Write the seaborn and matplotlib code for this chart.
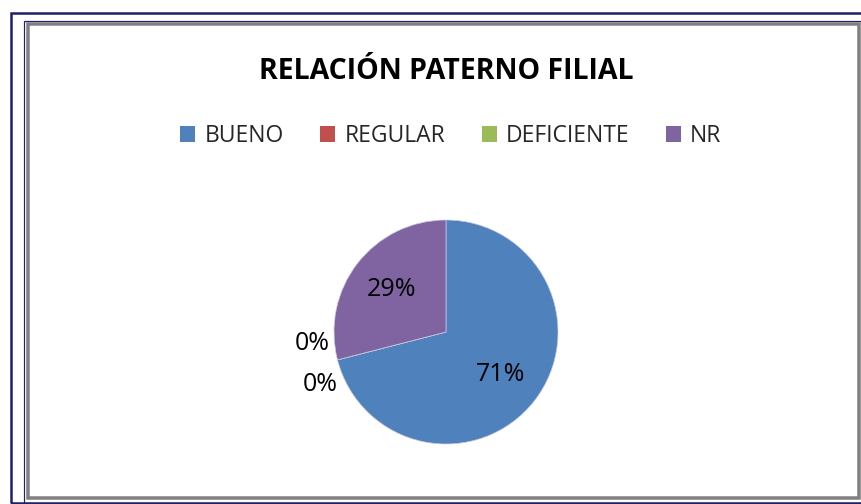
import matplotlib
matplotlib.use('Agg')
import matplotlib.pyplot as plt
from matplotlib.patches import Rectangle
import seaborn as sns

# Datos
categorias = ['BUENO', 'REGULAR', 'DEFICIENTE', 'NR']
valores = [71, 0, 0, 29]
colores = ['#4f81bd', '#c0504d', '#9bbb59', '#8064a2']
titulo = 'RELACIÓN PATERNO FILIAL'

sns.set_theme(style='white')
plt.rcParams['font.family'] = ['Open Sans', 'DejaVu Sans']

W, H = 862, 504
fig = plt.figure(figsize=(W / 100, H / 100), dpi=100)
fig.patch.set_facecolor('white')


def px_rect(x0, y0, x1, y1, color, lw):
    # rectangulo en pixeles (origen arriba a la izquierda)
    r = Rectangle((x0 / W, 1 - y1 / H), (x1 - x0) / W, (y1 - y0) / H,
                  transform=fig.transFigure, fill=False, edgecolor=color,
                  linewidth=lw * 72 / 100)
    fig.add_artist(r)


# Marcos
px_rect(11, 13, 870, 503, '#1f1f6b', 2.5)
px_rect(24.5, 20.5, 870, 503, '#1f1f6b', 1.2)
px_rect(28, 24, 859, 498, '#808080', 3.5)

# Titulo
fig.text(446 / W, 1 - 72 / H, titulo, ha='center', va='center',
         fontsize=20.5, fontweight='bold', color='black')

# Pie
R = 112
ax = fig.add_axes([(446 - 1.5 * R) / W, 1 - (332 + 1.5 * R) / H, 3 * R / W, 3 * R / H])
wedges, texts, autotexts = ax.pie(valores, colors=colores, startangle=90, counterclock=False,
                                  autopct='%1.0f%%', pctdistance=0.62,
                                  wedgeprops=dict(linewidth=0.5, edgecolor='#c8c8e0'),
                                  textprops=dict(fontsize=18, color='black'))
ax.set_xlim(-1.5, 1.5)
ax.set_ylim(-1.5, 1.5)
ax.set_aspect('equal')
ax.axis('off')

# etiquetas de 0% fuera del pastel
zero_pos = {1: (-1.19, -0.10), 2: (-1.12, -0.47)}
for i, t in enumerate(autotexts):
    if valores[i] == 0:
        t.set_position(zero_pos[i])
        t.set_ha('center')

# Leyenda
handles = [Rectangle((0, 0), 1, 1, facecolor=c, edgecolor='none') for c in colores]
fig.legend(handles, categorias, loc='center', bbox_to_anchor=(451 / W, 1 - 136 / H),
           ncol=4, frameon=False, fontsize=16.5, handlelength=0.65, handleheight=0.65,
           handletextpad=0.4, columnspacing=1.6)

fig.savefig('out.png', dpi=100)
